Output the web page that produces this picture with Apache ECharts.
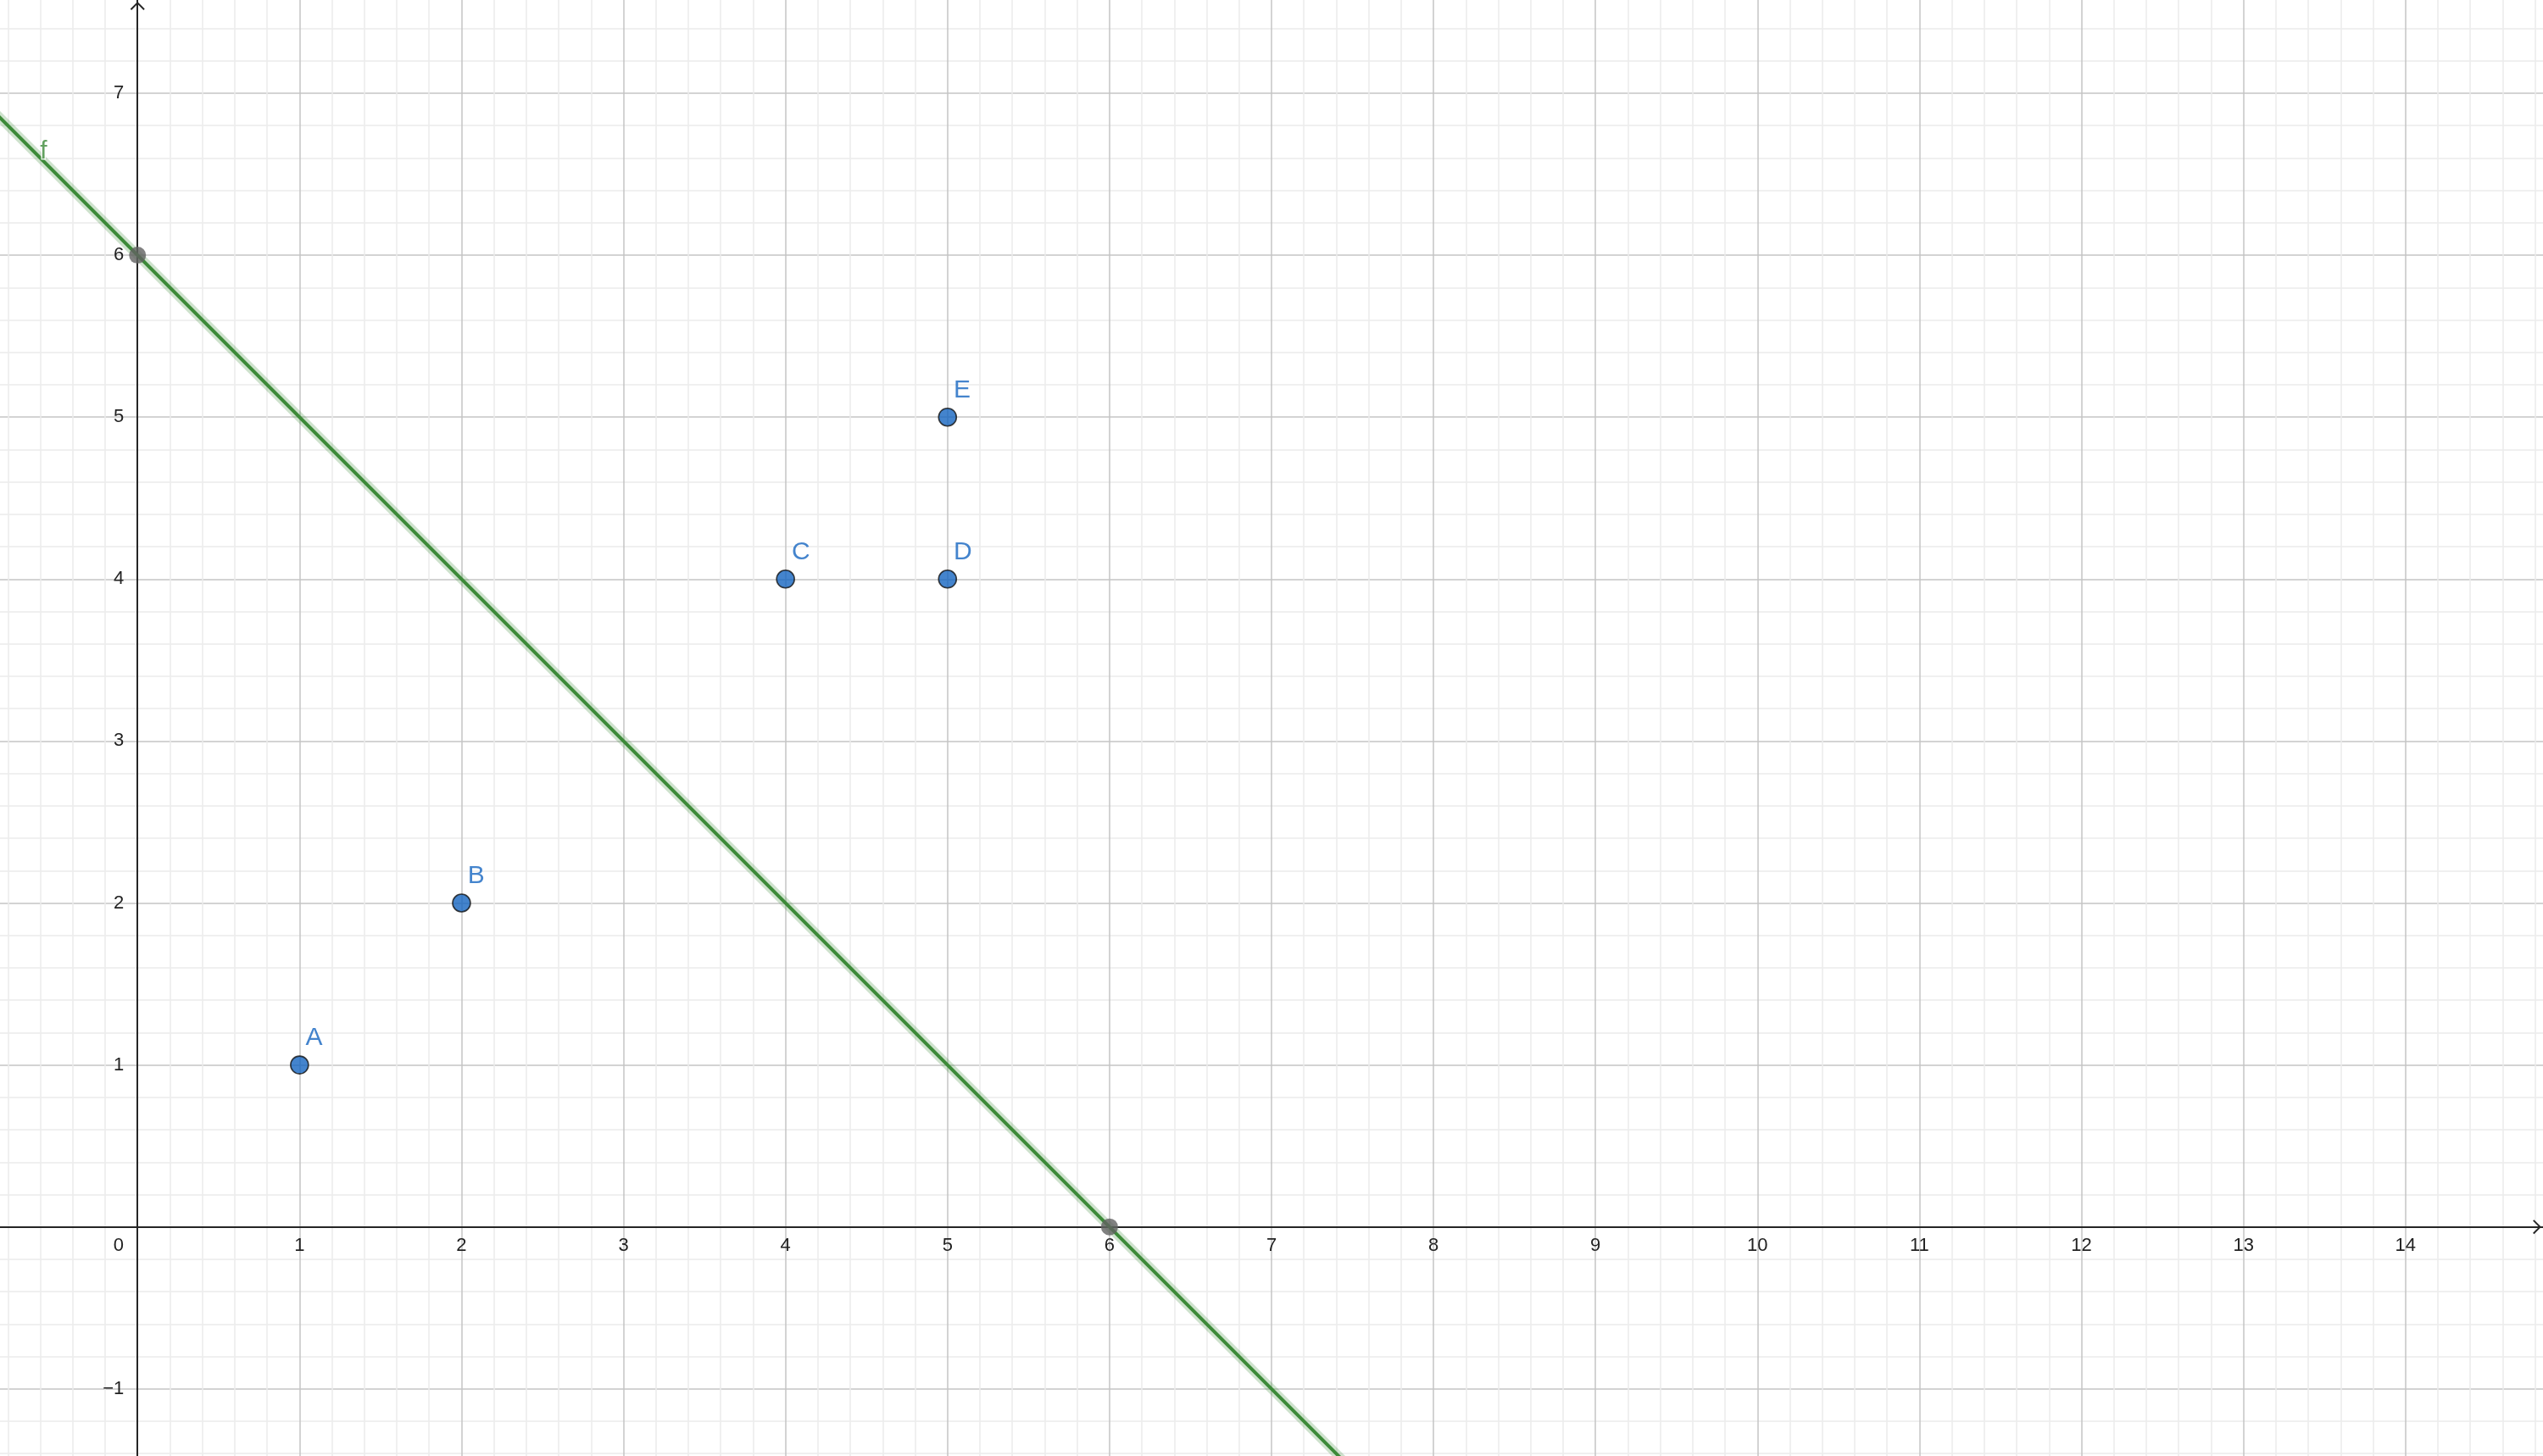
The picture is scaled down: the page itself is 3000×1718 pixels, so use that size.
<!DOCTYPE html>
<html><head><meta charset="utf-8">
<script src="https://cdn.jsdelivr.net/npm/echarts@6/dist/echarts.min.js"></script>
<style>html,body{margin:0;padding:0;background:#fff}#c{width:3000px;height:1718px}</style>
</head><body><div id="c"></div>
<script>
// ---- data ----
const pointNames = ['A', 'B', 'C', 'D', 'E'];
const pointX = [1, 2, 4, 5, 5];
const pointY = [1, 2, 4, 4, 5];
const lineFName = 'f';
const lineFPoints = [[-1, 7], [8, -2]];        // f: y = -x + 6, read through (0,6) and (6,0)
const interceptX = [0, 6];
const interceptY = [6, 0];
const lineFLabelAt = [-0.58, 6.64];
const xTickLabels = [0, 1, 2, 3, 4, 5, 6, 7, 8, 9, 10, 11, 12, 13, 14];
const yTickLabels = [-1, 1, 2, 3, 4, 5, 6, 7];
const xGridRange = [-1, 15];
const yGridRange = [-2, 8];

// ---- view (visible window of the plane) ----
const VIEW_X = [-0.849, 14.849];
const VIEW_Y = [-1.4145, 7.5756];

const FONT = 'Liberation Sans, Arial, sans-serif';
const GREEN = '#3c8a38';
const BLUE = '#1565c0';
const AXIS = '#252525';

const el = document.getElementById('c');
const W = el.clientWidth, H = el.clientHeight;
const ux = W / (VIEW_X[1] - VIEW_X[0]);
const uy = H / (VIEW_Y[1] - VIEW_Y[0]);
// distance from the canvas edges to the origin, used to place the axes through (0,0)
const xAxisOffset = -(0 - VIEW_Y[0]) * uy;
const yAxisOffset = -(0 - VIEW_X[0]) * ux;

const chart = echarts.init(el, null, {renderer: 'canvas'});
const fmt = v => v < 0 ? '\u2212' + Math.abs(v) : String(v);
const chevron = 'path://M50,0 L100,50 L92,58 L50,16 L8,58 L0,50 Z';

chart.setOption({
  animation: false,
  backgroundColor: '#ffffff',
  grid: [
    { left: (xGridRange[0] - VIEW_X[0]) * ux, right: (VIEW_X[1] - xGridRange[1]) * ux,
      top: (VIEW_Y[1] - yGridRange[1]) * uy, bottom: (yGridRange[0] - VIEW_Y[0]) * uy,
      containLabel: false, outerBoundsMode: 'none' },
    { left: 0, right: 0, top: 0, bottom: 0, containLabel: false, outerBoundsMode: 'none' }
  ],
  xAxis: [
    { gridIndex: 0, type: 'value', min: xGridRange[0], max: xGridRange[1], interval: 1,
      axisLine: { show: false }, axisTick: { show: false }, axisLabel: { show: false },
      minorTick: { show: false, splitNumber: 5 },
      splitLine: { show: true, lineStyle: { color: '#c4c4c4', width: 1.5 } },
      minorSplitLine: { show: true, lineStyle: { color: '#ececec', width: 1.5 } } },
    { gridIndex: 1, type: 'value', min: VIEW_X[0], max: VIEW_X[1], position: 'bottom', offset: xAxisOffset,
      axisLine: { show: true, onZero: false, symbol: ['none', chevron], symbolSize: [17, 10], symbolOffset: [0, -7],
        lineStyle: { color: AXIS, width: 2 } },
      axisTick: { show: false }, splitLine: { show: false },
      axisLabel: { show: true, customValues: xTickLabels, margin: 11, fontSize: 22, fontFamily: FONT, color: '#222',
        hideOverlap: false,
        formatter: v => v === 0 ? '{z|0}' : fmt(v),
        rich: { z: { fontSize: 22, fontFamily: FONT, color: '#222', padding: [0, 45, 0, 0] } } } }
  ],
  yAxis: [
    { gridIndex: 0, type: 'value', min: yGridRange[0], max: yGridRange[1], interval: 1,
      axisLine: { show: false }, axisTick: { show: false }, axisLabel: { show: false },
      minorTick: { show: false, splitNumber: 5 },
      splitLine: { show: true, lineStyle: { color: '#c4c4c4', width: 1.5 } },
      minorSplitLine: { show: true, lineStyle: { color: '#ececec', width: 1.5 } } },
    { gridIndex: 1, type: 'value', min: VIEW_Y[0], max: VIEW_Y[1], position: 'left', offset: yAxisOffset,
      axisLine: { show: true, onZero: false, symbol: ['none', chevron], symbolSize: [17, 10], symbolOffset: [0, -7],
        lineStyle: { color: AXIS, width: 2 } },
      axisTick: { show: false }, splitLine: { show: false },
      axisLabel: { show: true, customValues: yTickLabels, margin: 16, fontSize: 22, fontFamily: FONT, color: '#222',
        hideOverlap: false, formatter: v => fmt(v) } }
  ],
  series: [
    { type: 'line', name: lineFName + '-halo', xAxisIndex: 1, yAxisIndex: 1, data: lineFPoints,
      symbol: 'none', silent: true, z: 3,
      lineStyle: { color: 'rgba(60,138,56,0.25)', width: 11 } },
    { type: 'line', name: lineFName, xAxisIndex: 1, yAxisIndex: 1, data: lineFPoints,
      symbol: 'none', silent: true, z: 4,
      lineStyle: { color: GREEN, width: 4 } },
    { type: 'scatter', name: lineFName + '-label', xAxisIndex: 1, yAxisIndex: 1, data: [lineFLabelAt],
      symbol: 'circle', symbolSize: 1, itemStyle: { color: 'transparent' }, z: 6, silent: true,
      label: { show: true, formatter: lineFName, position: 'inside', fontSize: 30, fontFamily: FONT,
        color: GREEN, textBorderColor: '#fff', textBorderWidth: 3 } },
    { type: 'scatter', name: 'intercepts', xAxisIndex: 1, yAxisIndex: 1,
      data: interceptX.map((x, i) => [x, interceptY[i]]),
      symbol: 'circle', symbolSize: 20, z: 7, silent: true,
      itemStyle: { color: '#616161' } },
    { type: 'scatter', name: 'points', xAxisIndex: 1, yAxisIndex: 1,
      data: pointNames.map((n, i) => ({ name: n, value: [pointX[i], pointY[i]] })),
      symbol: 'circle', symbolSize: 21, z: 8, silent: true,
      itemStyle: { color: BLUE, borderColor: '#111', borderWidth: 1.6 },
      label: { show: true, formatter: '{b}', position: [18.5, -20.5], align: 'left', verticalAlign: 'middle',
        fontSize: 30, fontFamily: FONT, color: BLUE } }
  ]
});
</script>
</body></html>
